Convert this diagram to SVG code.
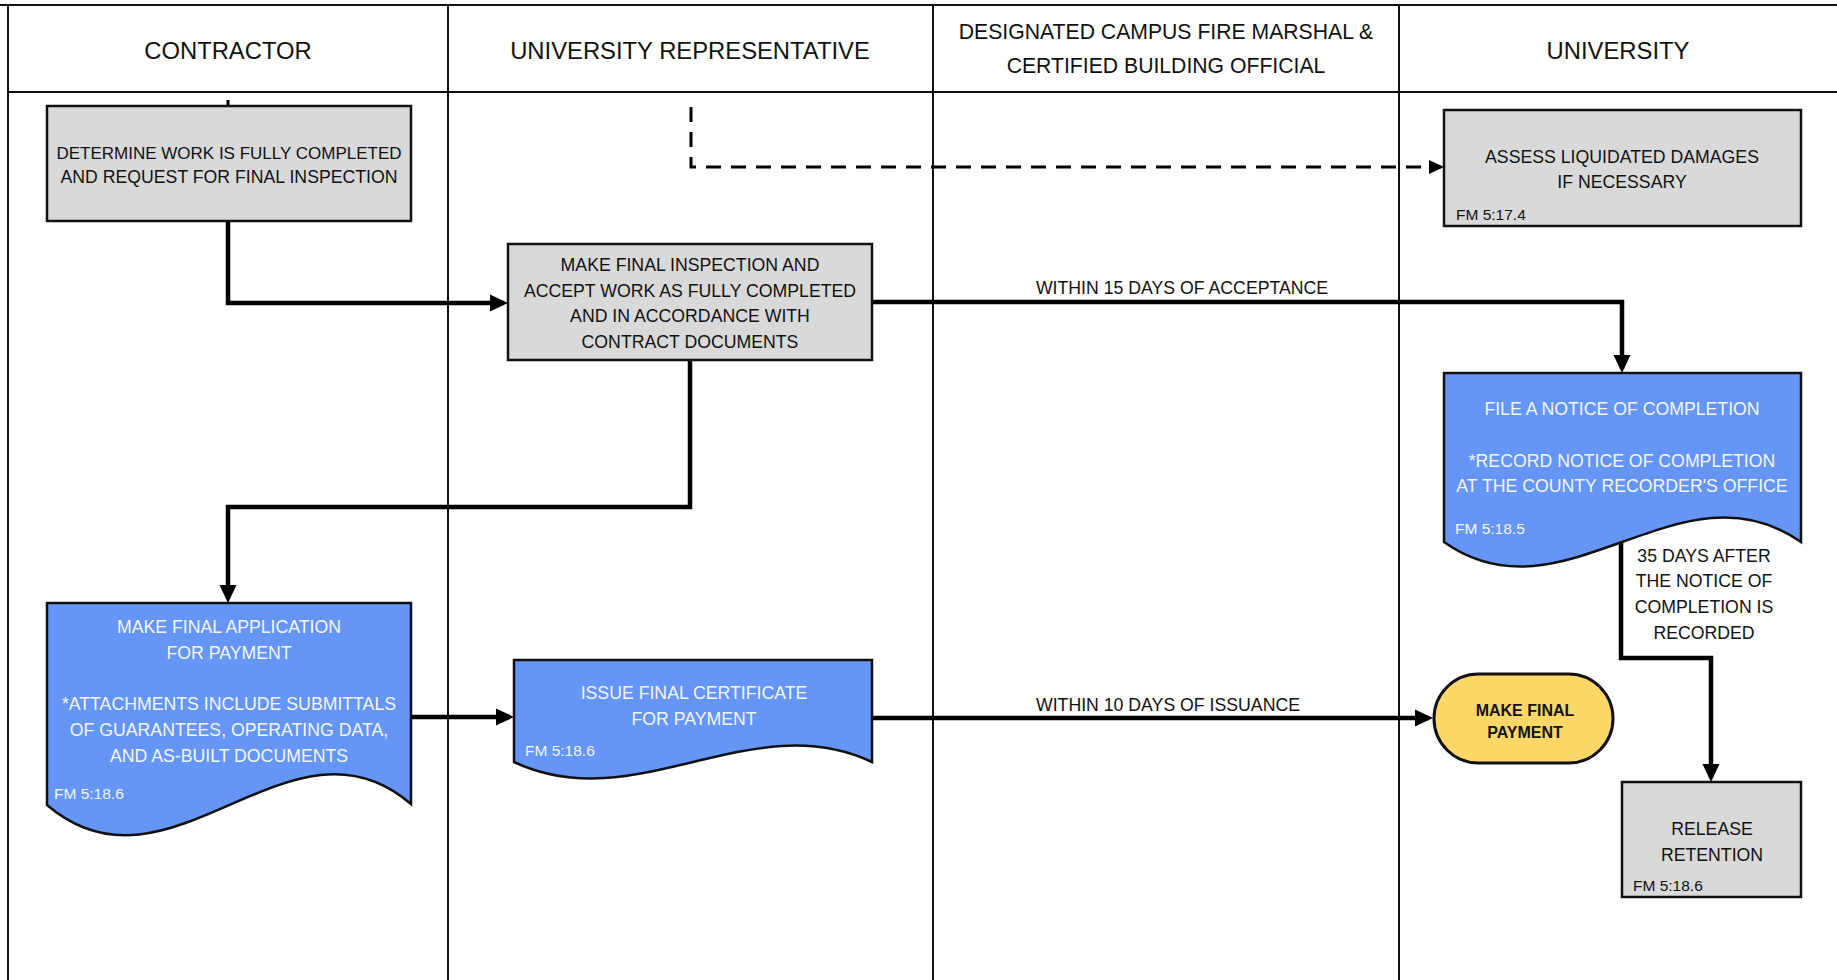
<svg xmlns="http://www.w3.org/2000/svg" width="1837" height="980" viewBox="0 0 1837 980">
  <style>
    .lane { stroke: #111; stroke-width: 2; fill: none; }
    .hdr { font-family: "Liberation Sans", Arial, sans-serif; font-size: 23.8px; fill: #111; text-anchor: middle; }
    .hdr2 { font-family: "Liberation Sans", Arial, sans-serif; font-size: 21.2px; fill: #111; text-anchor: middle; }
    .gray { fill: #d9d9d9; stroke: #111; stroke-width: 2.5; }
    .blue { fill: #6495f7; stroke: #111; stroke-width: 2.5; }
    .yellow { fill: #fdd868; stroke: #111; stroke-width: 3; }
    .t { font-family: "Liberation Sans", Arial, sans-serif; font-size: 17.7px; fill: #111; text-anchor: middle; }
    .tw { font-family: "Liberation Sans", Arial, sans-serif; font-size: 17.7px; fill: #f4f6ff; text-anchor: middle; }
    .fm { font-family: "Liberation Sans", Arial, sans-serif; font-size: 15.5px; fill: #111; }
    .fmw { font-family: "Liberation Sans", Arial, sans-serif; font-size: 15.5px; fill: #f4f6ff; }
    .tb { font-family: "Liberation Sans", Arial, sans-serif; font-size: 16px; font-weight: bold; fill: #111; text-anchor: middle; }
    .flow { stroke: #000; stroke-width: 4.5; fill: none; stroke-linejoin: miter; marker-end: url(#arrow); }
    .dash { stroke: #000; stroke-width: 3; fill: none; stroke-dasharray: 15 10; marker-end: url(#arrowSmall); }
  </style>
  <defs>
    <marker id="arrow" markerUnits="userSpaceOnUse" markerWidth="18" markerHeight="18" refX="14" refY="9" orient="auto">
      <path d="M0,0.5 L18,9 L0,17.5 z" fill="#000"/>
    </marker>
    <marker id="arrowSmall" markerUnits="userSpaceOnUse" markerWidth="15" markerHeight="14" refX="12" refY="7" orient="auto">
      <path d="M0,0 L15,7 L0,14 z" fill="#000"/>
    </marker>
  </defs>

  <rect width="1837" height="980" fill="#fff"/>

  <!-- swimlane frame -->
  <g id="lanes">
    <line class="lane" x1="0" y1="5" x2="1837" y2="5" stroke-width="2.5"/>
    <line class="lane" x1="8" y1="5" x2="8" y2="980"/>
    <line class="lane" x1="8" y1="92" x2="1837" y2="92" stroke-width="2.5"/>
    <line class="lane" x1="448" y1="5" x2="448" y2="980"/>
    <line class="lane" x1="933" y1="5" x2="933" y2="980"/>
    <line class="lane" x1="1399" y1="5" x2="1399" y2="980"/>
    <text class="hdr" x="228" y="59">CONTRACTOR</text>
    <text class="hdr" x="690" y="59">UNIVERSITY REPRESENTATIVE</text>
    <text class="hdr2" x="1166" y="39">DESIGNATED CAMPUS FIRE MARSHAL &amp;</text>
    <text class="hdr2" x="1166" y="73">CERTIFIED BUILDING OFFICIAL</text>
    <text class="hdr" x="1618" y="59">UNIVERSITY</text>
  </g>

  <!-- connectors -->
  <g id="connectors">
    <path d="M228,100 V106" stroke="#000" stroke-width="3" fill="none"/>
    <path class="flow" d="M228,221 V303 H504"/>
    <path class="flow" d="M872,302 H1622 V369"/>
    <path class="flow" d="M690,360 V507 H228 V599"/>
    <path class="flow" d="M411,717 H510"/>
    <path class="flow" d="M872,718 H1429"/>
    <path class="flow" d="M1621,542 V658 H1711 V778"/>
    <path class="dash" d="M691,107 V167 H1441"/>
    <text class="t" x="1182" y="294">WITHIN 15 DAYS OF ACCEPTANCE</text>
    <text class="t" x="1168" y="711">WITHIN 10 DAYS OF ISSUANCE</text>
    <text class="t" x="1704" y="562">35 DAYS AFTER</text>
    <text class="t" x="1704" y="587">THE NOTICE OF</text>
    <text class="t" x="1704" y="613">COMPLETION IS</text>
    <text class="t" x="1704" y="639">RECORDED</text>
  </g>

  <g id="request-inspection">
    <rect class="gray" x="47" y="106" width="364" height="115"/>
    <text class="t" x="229" y="159" style="font-size:17px">DETERMINE WORK IS FULLY COMPLETED</text>
    <text class="t" x="229" y="183">AND REQUEST FOR FINAL INSPECTION</text>
  </g>

  <g id="final-inspection">
    <rect class="gray" x="508" y="244" width="364" height="116"/>
    <text class="t" x="690" y="271">MAKE FINAL INSPECTION AND</text>
    <text class="t" x="690" y="296.5">ACCEPT WORK AS FULLY COMPLETED</text>
    <text class="t" x="690" y="322">AND IN ACCORDANCE WITH</text>
    <text class="t" x="690" y="347.5">CONTRACT DOCUMENTS</text>
  </g>

  <g id="liquidated-damages">
    <rect class="gray" x="1444" y="110" width="357" height="116"/>
    <text class="t" x="1622" y="163">ASSESS LIQUIDATED DAMAGES</text>
    <text class="t" x="1622" y="188">IF NECESSARY</text>
    <text class="fm" x="1456" y="220">FM 5:17.4</text>
  </g>

  <g id="notice-of-completion">
    <path class="blue" d="M1444,373 H1801 V542 C1680,457 1564,627 1444,542 Z"/>
    <text class="tw" x="1622" y="415">FILE A NOTICE OF COMPLETION</text>
    <text class="tw" x="1622" y="467">*RECORD NOTICE OF COMPLETION</text>
    <text class="tw" x="1622" y="492">AT THE COUNTY RECORDER'S OFFICE</text>
    <text class="fmw" x="1455" y="534">FM 5:18.5</text>
  </g>

  <g id="final-application">
    <path class="blue" d="M47,603 H411 V804 C290,700 170,910 47,805 Z"/>
    <text class="tw" x="229" y="633">MAKE FINAL APPLICATION</text>
    <text class="tw" x="229" y="659">FOR PAYMENT</text>
    <text class="tw" x="229" y="710">*ATTACHMENTS INCLUDE SUBMITTALS</text>
    <text class="tw" x="229" y="736">OF GUARANTEES, OPERATING DATA,</text>
    <text class="tw" x="229" y="762">AND AS-BUILT DOCUMENTS</text>
    <text class="fmw" x="54" y="799">FM 5:18.6</text>
  </g>

  <g id="final-certificate">
    <path class="blue" d="M514,660 H872 V762 C750,705 636,819 514,762 Z"/>
    <text class="tw" x="694" y="699">ISSUE FINAL CERTIFICATE</text>
    <text class="tw" x="694" y="725">FOR PAYMENT</text>
    <text class="fmw" x="525" y="756">FM 5:18.6</text>
  </g>

  <g id="final-payment">
    <rect class="yellow" x="1434" y="674" width="179" height="89" rx="44.5" ry="44.5"/>
    <text class="tb" x="1525" y="716">MAKE FINAL</text>
    <text class="tb" x="1525" y="738">PAYMENT</text>
  </g>

  <g id="release-retention">
    <rect class="gray" x="1622" y="782" width="179" height="115"/>
    <text class="t" x="1712" y="835">RELEASE</text>
    <text class="t" x="1712" y="861">RETENTION</text>
    <text class="fm" x="1633" y="891">FM 5:18.6</text>
  </g>
</svg>
